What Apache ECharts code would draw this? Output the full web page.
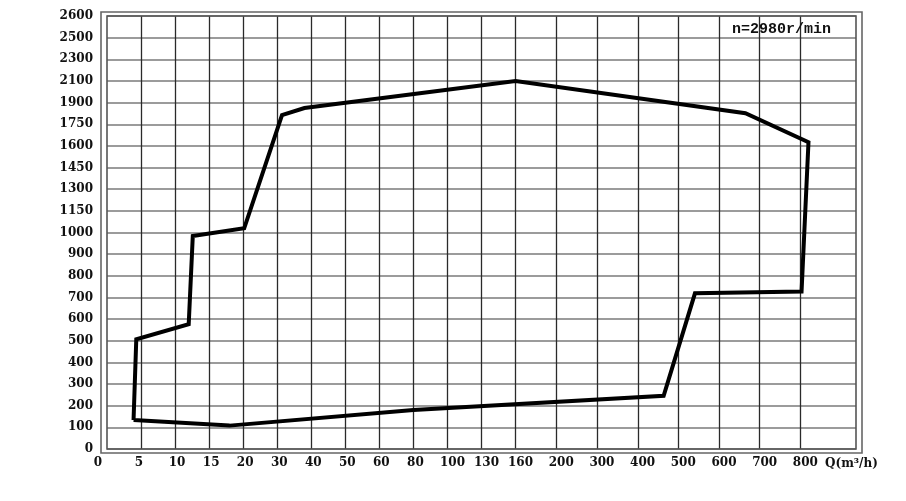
<!DOCTYPE html>
<html>
<head>
<meta charset="utf-8">
<script src="https://cdn.jsdelivr.net/npm/echarts@6/dist/echarts.min.js"></script>
<style>html,body{margin:0;padding:0;background:#fff}#c{width:906px;height:501px}</style>
</head>
<body>
<div id="c"></div>
<script>
// ---- data ----
const xTickLabels = [0, 5, 10, 15, 20, 30, 40, 50, 60, 80, 100, 130, 160, 200, 300, 400, 500, 600, 700, 800];
const yTickLabels = [0, 100, 200, 300, 400, 500, 600, 700, 800, 900, 1000, 1150, 1300, 1450, 1600, 1750, 1900, 2100, 2300, 2500, 2600];
const envelopeQ = [3.9, 4.3, 12.0, 12.6, 20.3, 31.4, 38, 160, 665, 820, 803, 541, 464, 80, 18.0, 3.9];
const envelopeH = [134, 507, 576, 984, 1029, 1814, 1862, 2100, 1826, 1625, 727, 719, 246, 180, 108, 134];
const speedNote = 'n=2980r/min';
const xAxisName = 'Q(m³/h)';

// ---- layout of the non-uniform Q axis (in axis units) ----
const NARROW_COUNT = 12;   // ticks 0..160 use unit spacing
const WIDE_STEP = 1.195;   // ticks after 160 are wider
const X_MAX = 22.0;
const xTickPos = xTickLabels.map((v, i) => i <= NARROW_COUNT ? i : NARROW_COUNT + (i - NARROW_COUNT) * WIDE_STEP);
const yTickPos = yTickLabels.map((v, i) => i);

function mapPiecewise(val, labels, pos) {
  let i = 0;
  while (i < labels.length - 2 && val > labels[i + 1]) i++;
  const t = (val - labels[i]) / (labels[i + 1] - labels[i]);
  return pos[i] + t * (pos[i + 1] - pos[i]);
}
const toX = q => mapPiecewise(q, xTickLabels, xTickPos);
const toY = h => mapPiecewise(h, yTickLabels, yTickPos);

const envelope = envelopeQ.map((q, i) => [toX(q), toY(envelopeH[i])]);

function xLabel(p) {
  let idx = -1;
  xTickPos.forEach((tp, i) => { if (Math.abs(tp - p) < 1e-6) idx = i; });
  if (idx < 0) return '';
  const s = String(xTickLabels[idx]);
  if (idx === 0) return '{z|' + s + '}';
  if (s.length === 1) return '{a|' + s + '}';
  if (s.length === 2) return '{b|' + s + '}';
  return '{c|' + s + '}';
}

const FONT = 'DejaVu Serif';
const lblBase = { fontFamily: FONT, fontWeight: 'bold', fontSize: 12, color: '#111' };

const chart = echarts.init(document.getElementById('c'), null, { renderer: 'canvas' });
chart.setOption({
  animation: false,
  backgroundColor: '#fff',
  grid: { left: 107, right: 50, top: 16, bottom: 52 },
  xAxis: {
    type: 'value', min: 0, max: X_MAX,
    axisLine: { show: false }, axisTick: { show: false, customValues: xTickPos },
    splitLine: { show: false },
    axisLabel: {
      customValues: xTickPos, margin: 8, formatter: xLabel,
      rich: {
        z: Object.assign({}, lblBase, { padding: [0, 18, 0, 0] }),
        a: Object.assign({}, lblBase, { padding: [0, 4, 0, 0] }),
        b: Object.assign({}, lblBase, { padding: [0, 0, 0, 4] }),
        c: Object.assign({}, lblBase, { padding: [0, 0, 0, 10] })
      }
    }
  },
  yAxis: {
    type: 'value', min: 0, max: yTickLabels.length - 1, interval: 1,
    axisLine: { show: false }, axisTick: { show: false },
    splitLine: { show: true, lineStyle: { color: '#7a7a7a', width: 1.6 } },
    axisLabel: Object.assign({}, lblBase, { margin: 14, formatter: v => String(yTickLabels[v]) })
  },
  series: [
    {
      type: 'line', data: [], z: 1, silent: true,
      markLine: {
        silent: true, symbol: ['none', 'none'], label: { show: false },
        lineStyle: { color: '#2a2a2a', width: 1.3, type: 'solid' },
        emphasis: { disabled: true },
        data: xTickPos.slice(1).map(p => ({ xAxis: p }))
      }
    },
    {
      type: 'line', data: envelope, z: 5, symbol: 'none', silent: true,
      lineStyle: { color: '#000', width: 4, join: 'miter' }
    }
  ],
  graphic: [
    { type: 'rect', shape: { x: 101, y: 12, width: 761, height: 441 }, style: { fill: 'none', stroke: '#666', lineWidth: 1.6 }, z: 10 },
    { type: 'rect', shape: { x: 107, y: 16, width: 749, height: 433 }, style: { fill: 'none', stroke: '#555', lineWidth: 1.6 }, z: 10 },
    { type: 'text', x: 732, y: 29, style: { text: speedNote, fontFamily: 'Liberation Mono', fontWeight: 'bold', fontSize: 15, fill: '#111', verticalAlign: 'middle', align: 'left' }, z: 10 },
    { type: 'text', x: 825, y: 464, style: { text: xAxisName, fontFamily: FONT, fontWeight: 'bold', fontSize: 12, fill: '#111', verticalAlign: 'middle', align: 'left' }, z: 10 }
  ]
});
</script>
</body>
</html>
